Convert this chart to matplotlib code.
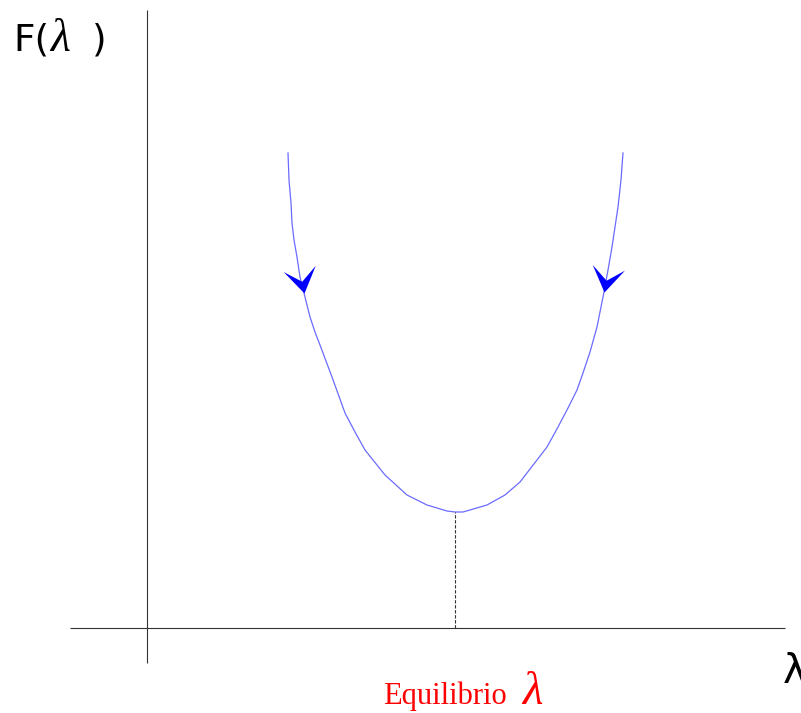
import numpy as np
import matplotlib
matplotlib.use('Agg')
import matplotlib.pyplot as plt
from matplotlib.markers import MarkerStyle
from matplotlib.path import Path
from matplotlib.transforms import Affine2D

plt.rcParams['mathtext.fontset'] = 'custom'
plt.rcParams['mathtext.it'] = 'Liberation Serif:italic'
plt.rcParams['mathtext.rm'] = 'Liberation Serif'

# schematic free-energy curve F(lambda), in diagram units (origin at axes crossing)
lam = [141, 142, 144, 145, 147, 150, 153, 157, 163, 168, 173, 185, 198, 208,
       218, 238, 260, 280, 300, 308,
       316, 340, 358, 373, 390, 400, 411, 420, 430, 436, 443, 450, 457, 461,
       465, 468, 471, 474, 476]
F = [475, 448, 425, 405, 388, 371, 351, 335, 311, 296, 283, 251, 215, 196,
     178, 153, 133, 123, 117, 116,
     116, 123, 133, 146, 168, 181, 201, 218, 238, 255, 276, 301, 336, 358,
     381, 401, 421, 448, 475]

lam_eq = 308
F_min = 116

# arrow heads on the two branches: position and tilt (deg)
arrow_lam = [157, 457]
arrow_F = [335, 336]
arrow_tilt = [11, -10]

fig = plt.figure(figsize=(8.01, 7.13), dpi=100)
ax = fig.add_axes([0, 0, 1, 1])
ax.set_xlim(-147, 654)
ax.set_ylim(-85, 628)
ax.axis('off')

# axes of the diagram
ax.plot([-77, 638], [0, 0], color='#333333', lw=0.8, solid_capstyle='butt')
ax.plot([0, 0], [-35, 618], color='#333333', lw=0.8, solid_capstyle='butt')

# curve
ax.plot(lam, F, color='#6b6bff', lw=0.9)

# equilibrium drop line
ax.plot([lam_eq, lam_eq], [0, F_min], color='#333333', lw=0.8,
        linestyle=(0, (3, 1.5)))

# chevron arrow heads
head = Path([(0, 0), (-15, 23), (0, 11), (15, 23), (0, 0)],
            [Path.MOVETO, Path.LINETO, Path.LINETO, Path.LINETO, Path.CLOSEPOLY])
for x, y, t in zip(arrow_lam, arrow_F, arrow_tilt):
    m = MarkerStyle(head, transform=Affine2D().rotate_deg(t))
    ax.plot([x], [y], marker=m, markersize=36, color='#0000ff',
            markeredgewidth=0, linestyle='none')

# y label F(lambda), built from pieces
ax.text(-134, 578, 'F(', fontsize=27, family='DejaVu Sans',
        ha='left', va='baseline')
ax.text(-98, 577, r'$\lambda$', fontsize=33, ha='left', va='baseline')
ax.text(-55, 578, ')', fontsize=27, family='DejaVu Sans',
        ha='left', va='baseline')

# x label
ax.text(636, -55, 'λ', fontsize=29, family='DejaVu Sans', ha='left',
        va='baseline')
ax.text(236, -76, 'Equilibrio', fontsize=22,
        family='Liberation Serif', color='red', ha='left', va='baseline')
ax.text(374, -76, r'$\lambda$', fontsize=34, color='red', ha='left',
        va='baseline')

fig.savefig('out.png', dpi=100)
